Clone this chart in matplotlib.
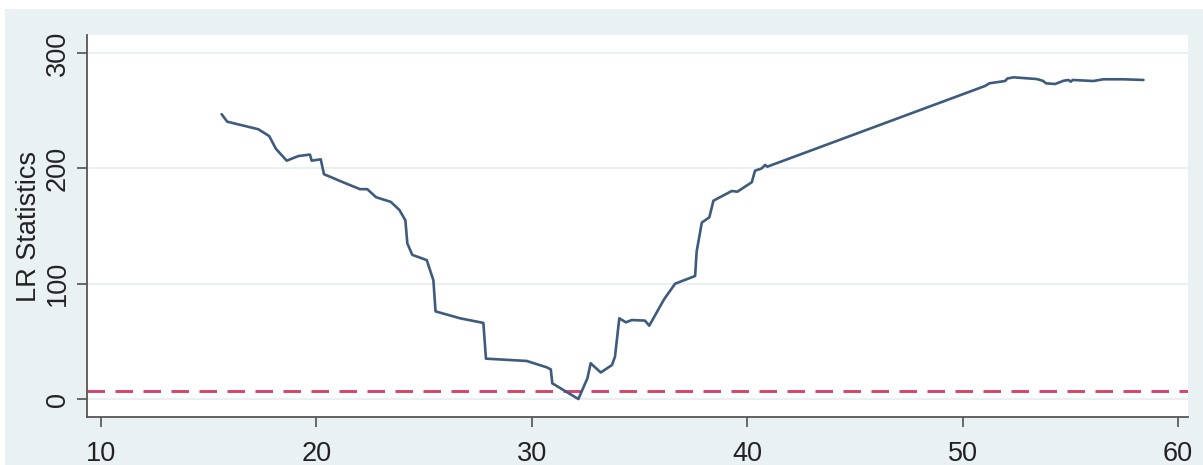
import matplotlib.pyplot as plt
from matplotlib.patches import Rectangle

# threshold candidates and LR statistic at each
threshold = [15.60, 15.86, 17.30, 17.81, 18.12, 18.62, 19.16, 19.70, 19.78, 20.20,
             20.35, 21.17, 22.02, 22.36, 22.77, 23.45, 23.85, 24.13, 24.22, 24.45,
             25.12, 25.43, 25.53, 26.67, 27.75, 27.87, 29.76, 30.69, 30.88, 30.95,
             32.16, 32.58, 32.73, 33.20, 33.72, 33.86, 34.06, 34.37, 34.64, 35.25,
             35.45, 36.14, 36.65, 37.58, 37.65, 37.89, 38.24, 38.43, 39.28, 39.54,
             40.21, 40.36, 40.67, 40.83, 40.93, 51.04, 51.24, 51.97, 52.08, 52.36,
             53.44, 53.72, 53.87, 54.29, 54.68, 54.91, 55.02, 55.11, 56.07, 56.53,
             57.46, 58.39]
lr_stat = [247, 240.5, 234, 228, 217, 206.7, 210.7, 212, 206.7, 207.9,
           195, 188.5, 182, 182, 175, 171, 164, 155, 135, 125,
           120.5, 103, 76, 70, 66, 35, 33, 27.5, 25.7, 13.6,
           0, 18, 31, 23, 29.5, 36.7, 70, 66.5, 68.5, 68,
           63.6, 86.5, 100, 106.7, 127.8, 153, 157.6, 172, 180.4, 179.8,
           188, 198, 200, 203, 201.5, 271.5, 273.8, 275.8, 278, 279,
           277.5, 276, 273.8, 273.2, 276, 276.7, 275.2, 276.7, 275.8, 277.3,
           277.3, 276.7]
crit_value = 7.35

xticks = [10, 20, 30, 40, 50, 60]
yticks = [0, 100, 200, 300]

plt.rcParams['font.family'] = ['Liberation Sans', 'DejaVu Sans']

fig = plt.figure(figsize=(12.03, 4.65), dpi=100, facecolor='white')
bg = Rectangle((5 / 1203, 0), 1 - 5 / 1203, 1 - 9 / 465,
               transform=fig.transFigure, facecolor='#eaf1f3',
               edgecolor='none', zorder=-10)
fig.add_artist(bg)

ax = fig.add_axes([87 / 1203, 48 / 465, 1101 / 1203, 382 / 465])
ax.set_zorder(1)
ax.set_facecolor('white')

ax.plot(threshold, lr_stat, color='#3e5b7e', lw=1.9, zorder=3,
        solid_joinstyle='round', solid_capstyle='round')
ax.axhline(crit_value, color='#d8436a', lw=2.1, dashes=(6, 3.6), zorder=2)

ax.set_xlim(9.35, 60.46)
ax.set_ylim(-15.6, 315.7)
ax.set_xticks(xticks)
ax.set_yticks(yticks)
for y in yticks:
    ax.axhline(y, color='#e5eef0', lw=1.2, zorder=1)

ax.tick_params(axis='both', direction='out', length=7.5, width=1.1,
               color='#444444', labelsize=19.5, labelcolor='#222222')
ax.tick_params(axis='x', pad=10)
ax.tick_params(axis='y', pad=4)
for lab in ax.get_yticklabels():
    lab.set_rotation(90)
    lab.set_va('center')

for side in ['top', 'right']:
    ax.spines[side].set_visible(False)
for side in ['left', 'bottom']:
    ax.spines[side].set_color('#555555')
    ax.spines[side].set_linewidth(1.3)

ax.set_ylabel('LR Statistics', fontsize=19.5, color='#222222', labelpad=2)

fig.savefig('out.png', dpi=100)
